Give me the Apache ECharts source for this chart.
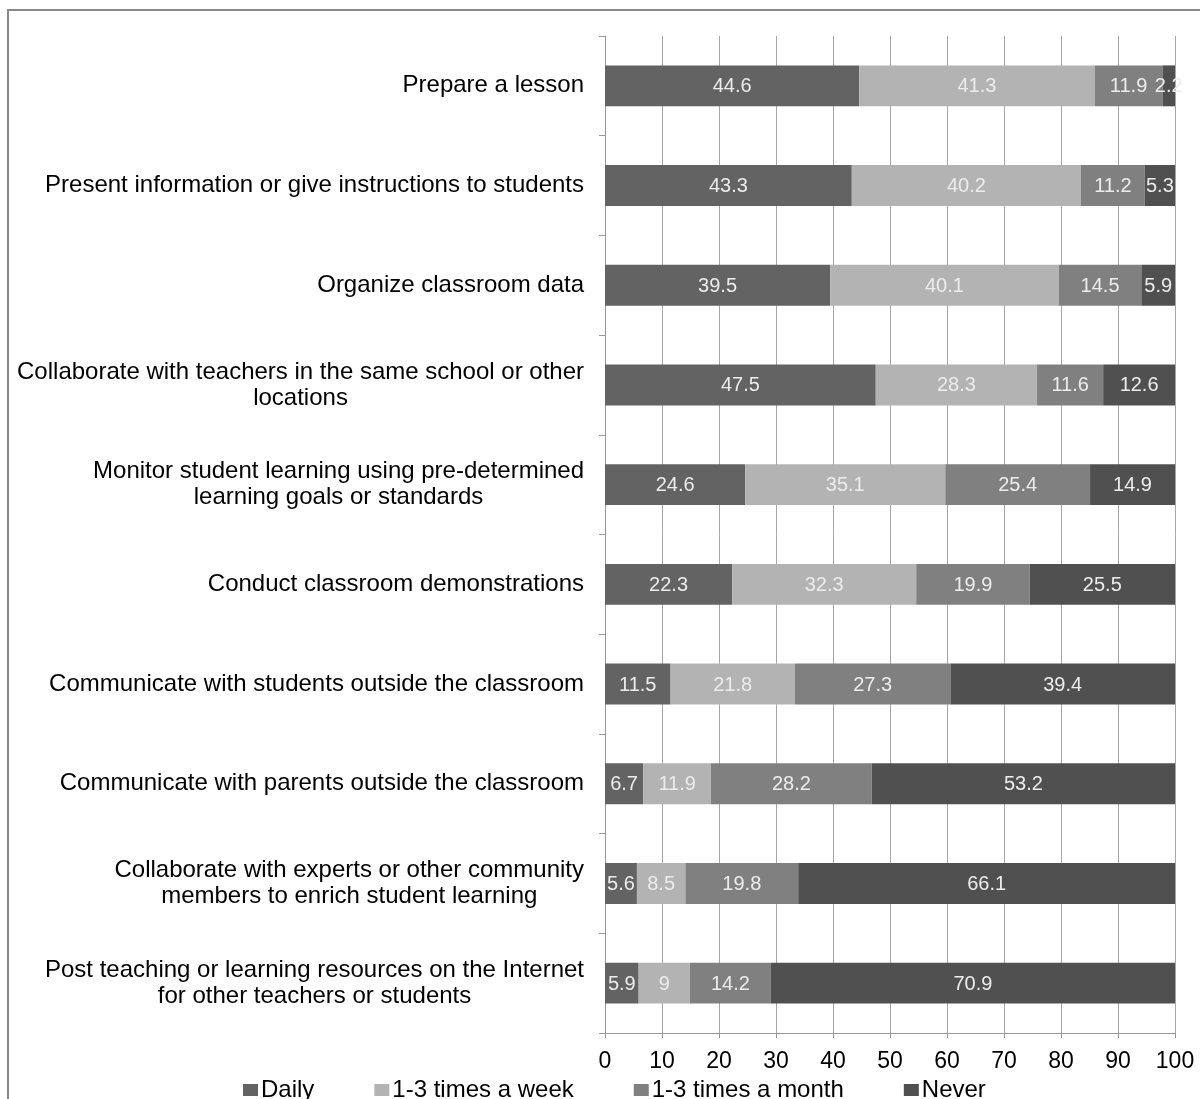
<!DOCTYPE html>
<html>
<head>
<meta charset="utf-8">
<script src="https://cdn.jsdelivr.net/npm/echarts@6/dist/echarts.min.js"></script>
<style>
html,body{margin:0;padding:0;background:#fff;}
#chart{width:1200px;height:1099px;}
</style>
</head>
<body>
<div id="chart"></div>
<script>
const categories = [
  "Prepare a lesson",
  "Present information or give instructions to students",
  "Organize classroom data",
  "Collaborate with teachers in the same school or other\nlocations",
  "Monitor student learning using pre-determined\nlearning goals or standards",
  "Conduct classroom demonstrations",
  "Communicate with students outside the classroom",
  "Communicate with parents outside the classroom",
  "Collaborate with experts or other community\nmembers to enrich student learning",
  "Post teaching or learning resources on the Internet\nfor other teachers or students"
];
const seriesNames = ["Daily", "1-3 times a week", "1-3 times a month", "Never"];
const daily   = [44.6, 43.3, 39.5, 47.5, 24.6, 22.3, 11.5, 6.7, 5.6, 5.9];
const weekly  = [41.3, 40.2, 40.1, 28.3, 35.1, 32.3, 21.8, 11.9, 8.5, 9];
const monthly = [11.9, 11.2, 14.5, 11.6, 25.4, 19.9, 27.3, 28.2, 19.8, 14.2];
const never   = [2.2, 5.3, 5.9, 12.6, 14.9, 25.5, 39.4, 53.2, 66.1, 70.9];
const xTicks = [0, 10, 20, 30, 40, 50, 60, 70, 80, 90, 100];

const colors = ["#636363", "#b3b3b3", "#808080", "#505050"];
const values = [daily, weekly, monthly, never];
const FONT = '"Liberation Sans", Arial, sans-serif';

const chart = echarts.init(document.getElementById('chart'), null, {renderer: 'canvas'});

const series = seriesNames.map((name, i) => ({
  name: name,
  type: 'bar',
  stack: 'total',
  barWidth: '41%',
  data: values[i],
  itemStyle: {color: colors[i]},
  label: {
    show: true,
    position: 'inside',
    color: '#ececec',
    fontSize: 20,
    fontFamily: FONT,
    offset: [0, 1],
    formatter: p => String(p.value)
  }
}));

chart.setOption({
  animation: false,
  backgroundColor: '#ffffff',
  color: colors,
  graphic: [{
    type: 'rect',
    shape: {x: 8, y: 10, width: 1400, height: 1300},
    style: {fill: 'none', stroke: '#888888', lineWidth: 2},
    silent: true,
    z: -10
  }],
  grid: {left: 605, right: 25, top: 36, bottom: 66, containLabel: false},
  legend: {
    top: 1078,
    left: 243,
    padding: 0,
    itemWidth: 15,
    itemHeight: 12,
    itemGap: 60,
    icon: 'rect',
    textStyle: {fontSize: 24, color: '#000', fontFamily: FONT, padding: [0, 0, 0, -2]},
    data: seriesNames
  },
  xAxis: {
    type: 'value',
    min: 0,
    max: 100,
    interval: 10,
    axisLine: {show: true, lineStyle: {color: '#999999', width: 1}},
    axisTick: {show: true, length: 5, lineStyle: {color: '#999999'}},
    splitLine: {show: true, lineStyle: {color: '#a6a6a6', width: 1}},
    axisLabel: {
      fontSize: 23,
      color: '#000',
      margin: 17,
      fontFamily: FONT,
      formatter: v => xTicks.includes(v) ? String(v) : ''
    }
  },
  yAxis: {
    type: 'category',
    inverse: true,
    data: categories,
    axisLine: {show: true, lineStyle: {color: '#999999', width: 1}},
    axisTick: {show: true, length: 6, lineStyle: {color: '#999999'}},
    splitLine: {show: false},
    axisLabel: {
      margin: 21,
      align: 'right',
      color: '#000',
      fontSize: 24,
      lineHeight: 26,
      fontFamily: FONT,
      formatter: v => v.split('\n').map(l => '{c|' + l + '}').join('\n'),
      rich: {
        c: {align: 'center', fontSize: 24, lineHeight: 26, color: '#000', fontFamily: FONT}
      }
    }
  },
  series: series
});
</script>
</body>
</html>
